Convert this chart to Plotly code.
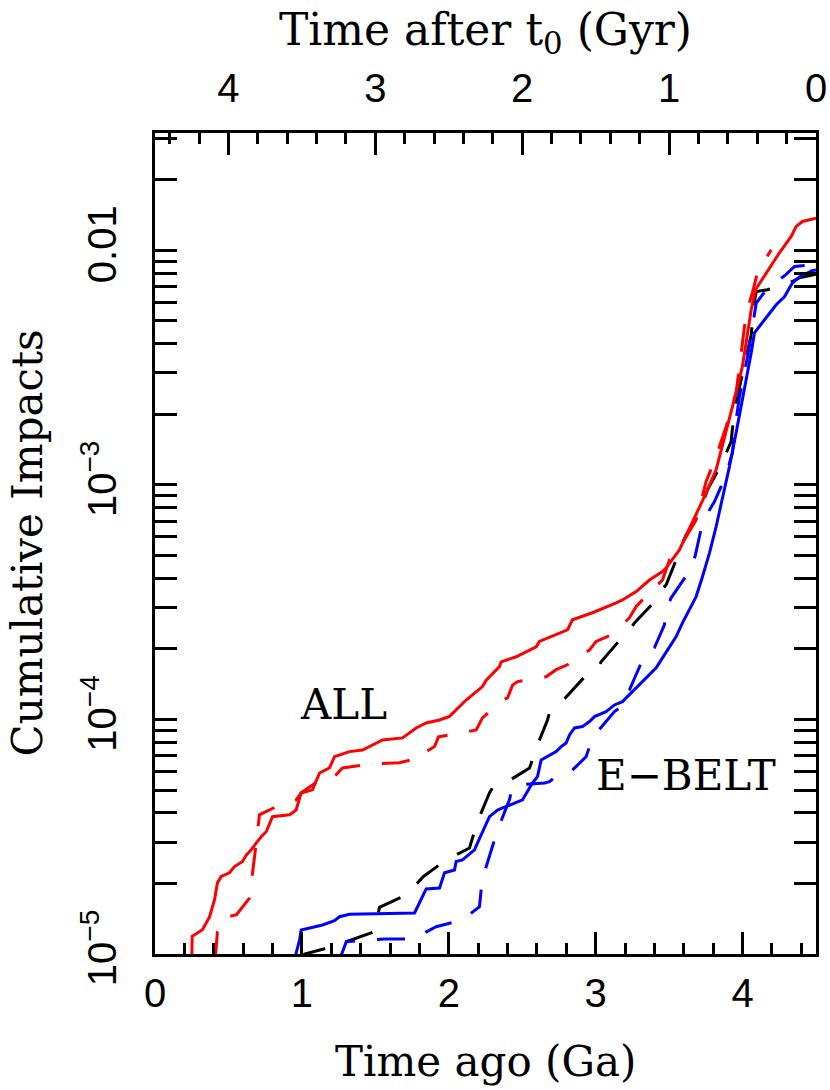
import plotly.graph_objects as go

# ---- data (x: time ago in Ga, y: cumulative impacts) ----
all_solid_x = [0.25,0.253,0.323,0.371,0.405,0.425,0.451,0.507,0.541,0.596,0.621,0.655,0.689,0.723,0.757,0.800,0.916,0.961,0.995,1.072,1.120,1.188,1.222,1.324,1.413,1.460,1.549,1.685,1.778,1.846,1.937,2.005,2.118,2.229,2.255,2.345,2.357,2.459,2.595,2.617,2.754,2.808,2.842,2.978,3.140,3.182,3.276,3.366,3.455,3.480,3.570,3.659,3.752,3.820,3.888,3.956,3.999,4.033,4.059,4.088,4.161,4.251,4.331,4.365,4.408,4.476,4.5]
all_solid_y = [9.0e-6,1.19e-5,1.27e-5,1.44e-5,1.70e-5,2.01e-5,2.14e-5,2.22e-5,2.36e-5,2.48e-5,2.64e-5,2.78e-5,2.97e-5,3.16e-5,3.32e-5,3.85e-5,3.92e-5,4.11e-5,4.86e-5,5.01e-5,5.91e-5,6.21e-5,6.94e-5,7.29e-5,7.41e-5,7.66e-5,8.18e-5,8.34e-5,9.20e-5,9.66e-5,9.95e-5,1.03e-4,1.21e-4,1.38e-4,1.47e-4,1.68e-4,1.76e-4,1.85e-4,2.04e-4,2.15e-4,2.34e-4,2.41e-4,2.66e-4,2.85e-4,3.14e-4,3.23e-4,3.51e-4,3.93e-4,4.27e-4,4.43e-4,5.28e-4,6.89e-4,9.24e-4,1.16e-3,1.67e-3,2.47e-3,3.20e-3,4.29e-3,5.58e-3,6.79e-3,8.02e-3,9.76e-3,1.145e-2,1.264e-2,1.327e-2,1.362e-2,1.37e-2]

all_dash_x = [0.41,0.425,0.460,0.555,0.643,0.664,0.689,0.711,0.848,0.961,0.995,1.120,1.199,1.276,1.472,1.664,1.835,1.846,1.903,1.930,2.093,2.187,2.229,2.366,2.400,2.434,2.468,2.663,2.731,2.808,2.958,3.003,3.106,3.230,3.276,3.332,3.455,3.503,3.591,3.684,3.752,3.820,3.888,3.956,3.979,4.025,4.067,4.101,4.195]
all_dash_y = [9.5e-6,1.245e-5,1.42e-5,1.47e-5,1.73e-5,2.28e-5,2.97e-5,3.92e-5,4.32e-5,4.54e-5,4.86e-5,5.52e-5,5.52e-5,6.21e-5,6.46e-5,6.54e-5,6.94e-5,7.29e-5,7.66e-5,8.42e-5,8.76e-5,9.02e-5,1.015e-4,1.21e-4,1.235e-4,1.40e-4,1.45e-4,1.52e-4,1.63e-4,1.71e-4,1.98e-4,2.15e-4,2.29e-4,2.71e-4,3.03e-4,3.30e-4,3.93e-4,4.79e-4,5.66e-4,7.09e-4,1.033e-3,1.32e-3,1.77e-3,2.47e-3,3.20e-3,5.41e-3,6.59e-3,8.02e-3,1.005e-2]

black_dash_x = [0.99,1.018,1.142,1.302,1.494,1.51,1.528,1.710,1.828,1.982,2.141,2.195,2.277,2.297,2.400,2.550,2.584,2.604,2.672,2.685,2.787,2.910,2.958,3.026,3.037,3.148,3.208,3.242,3.264,3.378,3.412,3.434,3.480,3.548,3.582,3.591,3.616,3.707,3.761,3.854,3.922,3.945,3.979,4.025,4.059,4.081,4.093,4.170,4.338,4.387,4.476,4.5]
black_dash_y = [9.5e-6,1.0e-5,1.047e-5,1.128e-5,1.245e-5,1.40e-5,1.58e-5,1.785e-5,2.14e-5,2.52e-5,2.83e-5,3.67e-5,4.86e-5,5.10e-5,5.43e-5,6.21e-5,7.20e-5,7.79e-5,9.95e-5,1.066e-4,1.223e-4,1.474e-4,1.60e-4,1.71e-4,1.76e-4,2.12e-4,2.34e-4,2.46e-4,2.58e-4,3.08e-4,3.23e-4,3.46e-4,3.75e-4,4.79e-4,5.19e-4,5.66e-4,6.12e-4,7.60e-4,9.52e-4,1.217e-3,1.53e-3,2.09e-3,2.59e-3,3.41e-3,4.36e-3,6.05e-3,6.67e-3,6.79e-3,7.36e-3,7.63e-3,7.86e-3,7.9e-3]

ebelt_solid_x = [0.95,0.984,0.995,1.052,1.140,1.222,1.256,1.324,1.767,1.800,1.846,1.937,1.971,2.039,2.050,2.093,2.175,2.195,2.243,2.277,2.332,2.502,2.570,2.604,2.629,2.686,2.731,2.765,2.799,2.822,2.856,2.910,2.958,2.992,3.071,3.128,3.182,3.242,3.310,3.378,3.412,3.455,3.503,3.548,3.591,3.639,3.684,3.727,3.775,3.820,3.877,3.911,3.956,3.999,4.033,4.059,4.081,4.135,4.183,4.229,4.286,4.340,4.387,4.476,4.5]
ebelt_solid_y = [9.5e-6,1.147e-5,1.266e-5,1.291e-5,1.329e-5,1.387e-5,1.442e-5,1.477e-5,1.496e-5,1.65e-5,1.894e-5,1.912e-5,2.22e-5,2.28e-5,2.48e-5,2.52e-5,2.78e-5,2.97e-5,3.49e-5,3.85e-5,4.11e-5,4.54e-5,5.36e-5,5.70e-5,6.72e-5,7.06e-5,7.29e-5,7.66e-5,7.94e-5,8.59e-5,9.20e-5,9.32e-5,9.79e-5,1.028e-4,1.080e-4,1.153e-4,1.191e-4,1.297e-4,1.431e-4,1.579e-4,1.658e-4,1.830e-4,2.044e-4,2.255e-4,2.58e-4,2.93e-4,3.34e-4,4.06e-4,5.13e-4,6.64e-4,9.52e-4,1.197e-3,1.666e-3,2.30e-3,3.00e-3,3.66e-3,4.45e-3,4.91e-3,5.41e-3,5.86e-3,6.35e-3,7.27e-3,7.7e-3,8.2e-3,8.25e-3]

ebelt_dash_x = [1.25,1.274,1.302,1.378,1.562,1.753,1.914,2.093,2.209,2.227,2.277,2.332,2.413,2.434,2.468,2.652,2.686,2.731,2.822,2.935,2.958,2.978,3.012,3.128,3.174,3.208,3.230,3.298,3.319,3.353,3.400,3.468,3.480,3.514,3.616,3.659,3.684,3.727,3.775,3.809,3.888,3.931,3.956,3.979,4.036,4.077,4.093,4.161,4.293,4.354,4.476,4.5]
ebelt_dash_y = [9.5e-6,1.01e-5,1.128e-5,1.139e-5,1.159e-5,1.159e-5,1.307e-5,1.396e-5,1.591e-5,2.07e-5,2.64e-5,3.38e-5,4.54e-5,5.17e-5,5.26e-5,5.36e-5,5.43e-5,5.74e-5,5.91e-5,6.94e-5,7.66e-5,8.18e-5,8.87e-5,1.080e-4,1.134e-4,1.297e-4,1.336e-4,1.658e-4,1.793e-4,1.921e-4,2.018e-4,2.53e-4,2.93e-4,3.30e-4,4.06e-4,4.48e-4,5.19e-4,6.89e-4,7.82e-4,8.49e-4,1.103e-3,1.369e-3,1.894e-3,2.38e-3,3.58e-3,5.31e-3,5.95e-3,6.79e-3,7.86e-3,8.53e-3,8.68e-3,8.7e-3]

x_ticks = [0, 1, 2, 3, 4]
top_ticks = [0, 1, 2, 3, 4]
y_ticks = [1e-5, 1e-4, 1e-3, 1e-2]
y_ticktext = ["10<sup>\u22125</sup>", "10<sup>\u22124</sup>", "10<sup>\u22123</sup>", "0.01"]
y_minor = [k * 10.0 ** e for e in (-5, -4, -3, -2) for k in range(2, 10)]

DASH = "28px,22px"
LW = 3
SERIF = "DejaVu Serif"
SANS = "Liberation Sans"

fig = go.Figure()
fig.add_trace(go.Scatter(x=black_dash_x, y=black_dash_y, mode="lines",
                         line=dict(color="black", width=LW, dash=DASH), showlegend=False))
fig.add_trace(go.Scatter(x=ebelt_dash_x, y=ebelt_dash_y, mode="lines",
                         line=dict(color="#0000ff", width=LW, dash=DASH), showlegend=False))
fig.add_trace(go.Scatter(x=ebelt_solid_x, y=ebelt_solid_y, mode="lines",
                         line=dict(color="#0000ff", width=LW), showlegend=False))
fig.add_trace(go.Scatter(x=all_dash_x, y=all_dash_y, mode="lines",
                         line=dict(color="#ff0000", width=LW, dash=DASH), showlegend=False))
fig.add_trace(go.Scatter(x=all_solid_x, y=all_solid_y, mode="lines",
                         line=dict(color="#ff0000", width=LW), showlegend=False))
# invisible trace to activate the top axis
fig.add_trace(go.Scatter(x=[None], y=[None], xaxis="x2", yaxis="y", mode="lines",
                         showlegend=False, hoverinfo="skip"))

fig.update_layout(
    width=830, height=1090,
    margin=dict(l=155, r=14, t=133, b=136, pad=0),
    paper_bgcolor="white", plot_bgcolor="white",
    xaxis=dict(
        range=[0, 4.5], tickmode="array", tickvals=x_ticks, automargin=False,
        ticks="inside", ticklen=22, tickwidth=3, tickcolor="black",
        minor=dict(dtick=0.2, tick0=0, ticks="inside", ticklen=11, tickwidth=3, tickcolor="black"),
        showline=True, linewidth=3, linecolor="black", mirror=True,
        showgrid=False, zeroline=False,
        tickfont=dict(family=SANS, size=40, color="black"),
        ticklabelstandoff=2,
    ),
    xaxis2=dict(
        overlaying="x", side="top", anchor="y", automargin=False,
        range=[4.5, 0], autorange=False, tickmode="array", tickvals=top_ticks,
        ticks="inside", ticklen=22, tickwidth=3, tickcolor="black",
        minor=dict(dtick=0.2, tick0=0, ticks="inside", ticklen=11, tickwidth=3, tickcolor="black"),
        showline=False, showgrid=False, zeroline=False,
        tickfont=dict(family=SANS, size=40, color="black"),
        ticklabelstandoff=22,
        title=dict(text="Time after t<sub>0</sub> (Gyr)", font=dict(family=SERIF, size=44, color="black"), standoff=6),
    ),
    yaxis=dict(
        type="log", range=[-5, -1.5], tickmode="array", tickvals=y_ticks, ticktext=y_ticktext,
        tickangle=-90, automargin=False,
        ticks="inside", ticklen=22, tickwidth=3, tickcolor="black",
        minor=dict(tickmode="array", tickvals=y_minor, ticks="inside", ticklen=11, tickwidth=3, tickcolor="black"),
        showline=True, linewidth=3, linecolor="black", mirror="allticks",
        showgrid=False, zeroline=False,
        tickfont=dict(family=SANS, size=40, color="black"),
        ticklabelstandoff=20,
    ),
    annotations=[
        dict(x=1.283, y=-3.938, xref="x", yref="y", text="ALL", showarrow=False,
             font=dict(family=SERIF, size=42, color="black")),
        dict(x=3.618, y=-4.237, xref="x", yref="y", text="E\u2212BELT", showarrow=False,
             font=dict(family=SERIF, size=42, color="black")),
        dict(x=0.5, y=0, xref="paper", yref="paper", text="Time ago (Ga)", showarrow=False,
             xanchor="center", yanchor="middle", yshift=-107,
             font=dict(family=SERIF, size=42, color="black")),
        dict(x=0, y=0.5, xref="paper", yref="paper", text="Cumulative Impacts", showarrow=False,
             textangle=-90, xanchor="center", yanchor="middle", xshift=-128,
             font=dict(family=SERIF, size=42, color="black")),
    ],
)

# remove the browser's default 8px page margin so the figure fills the window exactly
fig.write_html("out.html", config={"displayModeBar": False},
               post_script="document.body.style.margin='0';")
